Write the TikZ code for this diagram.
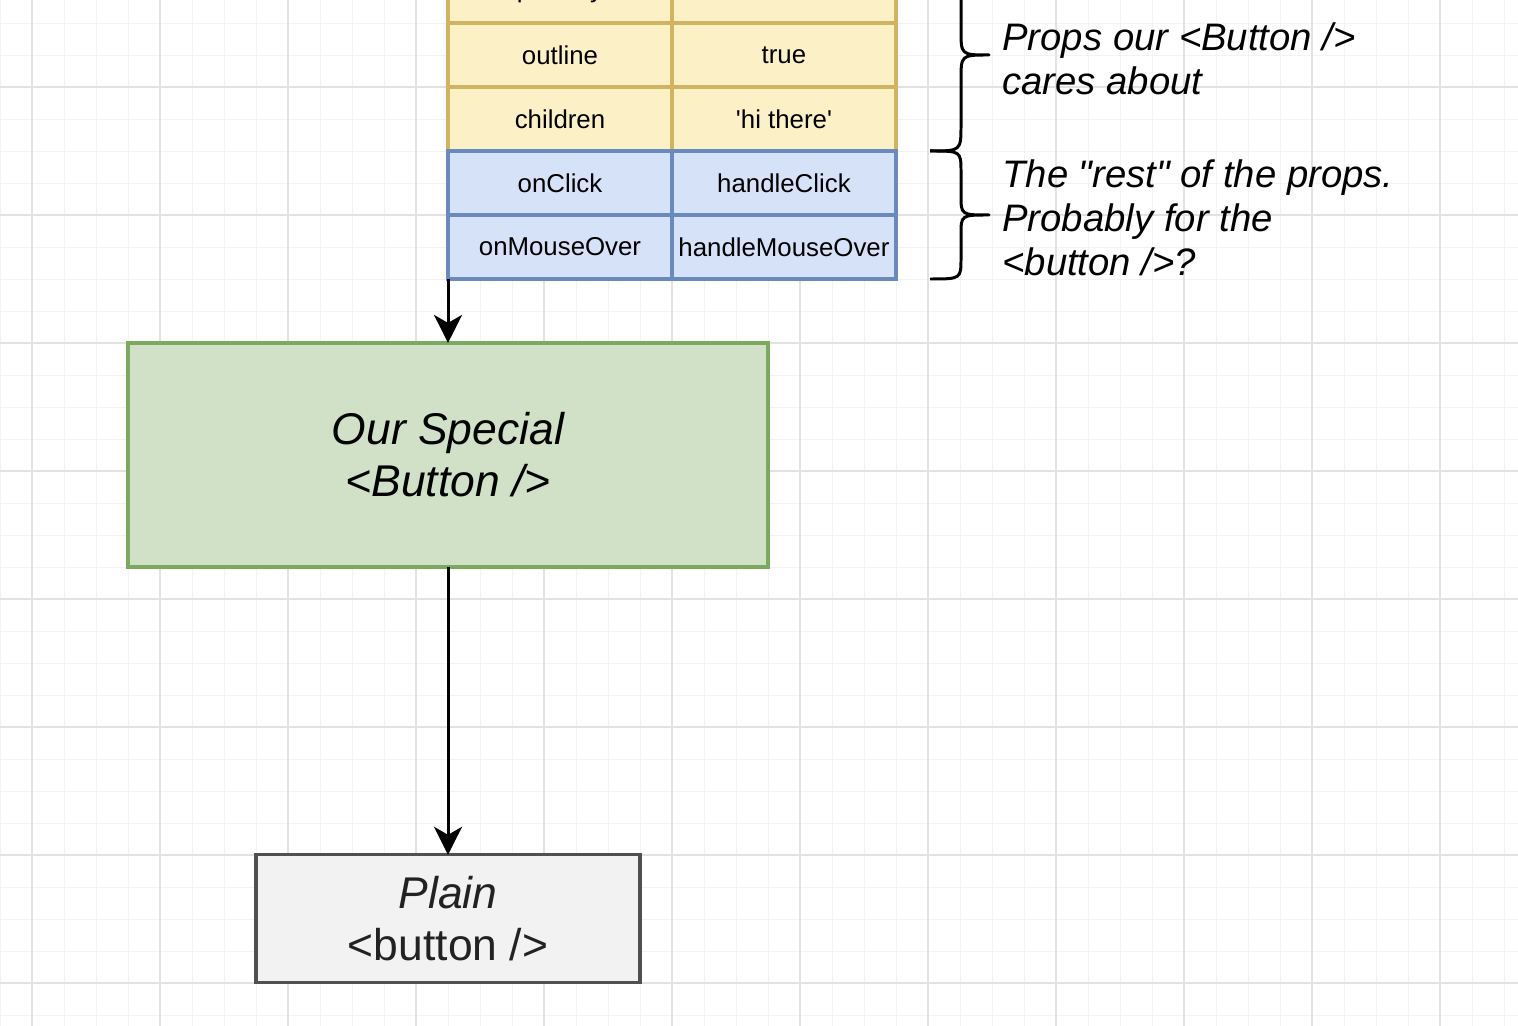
\documentclass[tikz,border=0pt]{standalone}
\usepackage{fontspec}
\setmainfont{Liberation Sans}
\newfontfamily\drawfont{Liberation Sans}
\usetikzlibrary{positioning, arrows.meta, calc}
\definecolor{ownFill}{HTML}{FCF1C6}
\definecolor{ownLine}{HTML}{D0B45E}
\definecolor{restFill}{HTML}{D5E2F8}
\definecolor{restLine}{HTML}{6A89BC}
\definecolor{specialFill}{HTML}{D0E1C8}
\definecolor{specialLine}{HTML}{7CA95E}
\definecolor{plainFill}{HTML}{F2F2F2}
\definecolor{plainLine}{HTML}{505050}
\definecolor{plainText}{HTML}{222222}
\definecolor{gridMinor}{HTML}{F3F3F3}
\definecolor{gridMajor}{HTML}{E2E2E2}

\begin{document}
\begin{tikzpicture}[x=0.02cm, y=-0.02cm,
    cell/.style={rectangle, draw, line width=1.9pt, minimum width=4.48cm, minimum height=1.28cm, inner sep=0pt, outer sep=0pt, align=center, font=\drawfont\fontsize{14.7}{17}\selectfont},
    ownprop/.style={cell, draw=ownLine, fill=ownFill},
    restprop/.style={cell, draw=restLine, fill=restFill},
    bigbox/.style={rectangle, line width=1.9pt, inner sep=0pt, outer sep=0pt, align=center, font=\drawfont\fontsize{25.3}{29.5}\selectfont},
    special/.style={bigbox, draw=specialLine, fill=specialFill, minimum width=12.8cm, minimum height=4.48cm},
    plainbox/.style={bigbox, draw=plainLine, fill=plainFill, text=plainText, minimum width=7.68cm, minimum height=2.56cm},
    arrow/.style={-{Stealth[length=5.6mm, width=5.6mm, inset=1.6mm]}, line width=1.7pt},
    brace/.style={line width=1.7pt, line join=round},
    note/.style={anchor=west, align=left, inner sep=0pt, font=\drawfont\fontsize{21.8}{25}\selectfont\itshape}]

  \useasboundingbox (0,0) rectangle (1518,1026);
  \clip (0,0) rectangle (1518,1026);
  \fill[white] (0,0) rectangle (1518,1026);

  % grid
  \foreach \x in {0,32,...,1518} \draw[gridMinor, line width=0.5pt] (\x,0) -- (\x,1026);
  \foreach \y in {23,55,...,1026} \draw[gridMinor, line width=0.5pt] (0,\y) -- (1518,\y);
  \foreach \x in {32,160,...,1518} \draw[gridMajor, line width=0.6pt] (\x,0) -- (\x,1026);
  \foreach \y in {87,215,...,1026} \draw[gridMajor, line width=0.6pt] (0,\y) -- (1518,\y);

  % props table
  \node[ownprop] (primaryKey) at (560,-9) {primary};
  \node[ownprop, right=0pt of primaryKey] (primaryVal) {true};
  \node[ownprop, below=0pt of primaryKey] (outlineKey) {outline};
  \node[ownprop, right=0pt of outlineKey] (outlineVal) {true};
  \node[ownprop, below=0pt of outlineKey] (childrenKey) {children};
  \node[ownprop, right=0pt of childrenKey] (childrenVal) {'hi there'};
  \node[restprop, below=0pt of childrenKey] (clickKey) {onClick};
  \node[restprop, right=0pt of clickKey] (clickVal) {handleClick};
  \node[restprop, below=0pt of clickKey] (mouseKey) {onMouseOver};
  \node[restprop, right=0pt of mouseKey] (mouseVal) {handleMouseOver};

  \node[special, below=1.28cm of mouseKey.south west] (special) {\itshape Our Special\\\itshape <Button />};
  \node[plainbox, below=5.76cm of special] (plain) {\itshape Plain\\<button />};

  \draw[arrow] (mouseKey.south west) -- (special.north);
  \draw[arrow] (special.south) -- (plain.north);

  % braces
  \draw[brace] (930,-41) .. controls (961,-41) .. (961,-15) -- (961,30)
    .. controls (961,55) .. (989,55) .. controls (961,55) .. (961,80) -- (961,125)
    .. controls (961,151) .. (930,151);
  \draw[brace] (930,151) .. controls (961,151) .. (961,172) -- (961,195)
    .. controls (961,215) .. (989,215) .. controls (961,215) .. (961,235) -- (961,258)
    .. controls (961,279) .. (930,279);

  \node[note] (propsNote) at (1002,59) {Props our <Button />\\cares about};
  \node[note] (restNote) at (1002,218) {The "rest" of the props.\\Probably for the\\<button />?};
\end{tikzpicture}
\end{document}
